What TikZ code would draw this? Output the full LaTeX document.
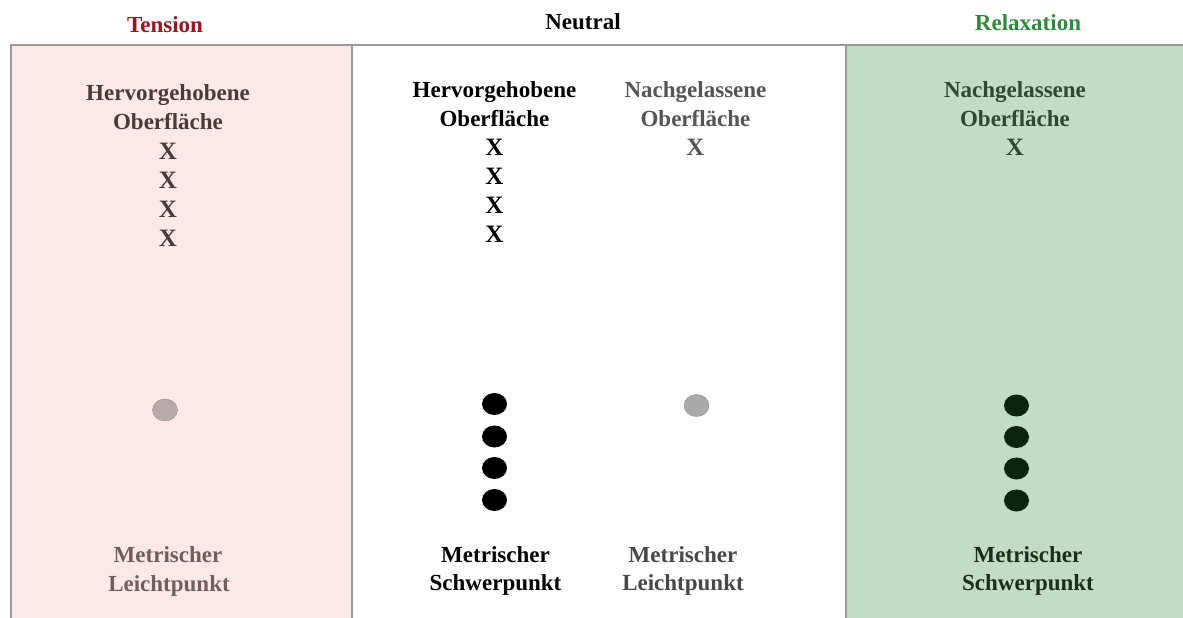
\documentclass[tikz,border=0pt]{standalone}
\usepackage{fontspec}
\setmainfont{Liberation Serif}
\usetikzlibrary{shapes.geometric}
\definecolor{tensionfill}{HTML}{FDE8E8}
\definecolor{relaxfill}{HTML}{C2DDC4}
\definecolor{framegray}{HTML}{9A9A9A}
\definecolor{tensiontitle}{HTML}{9B1420}
\definecolor{relaxtitle}{HTML}{2E8B3D}
\definecolor{tensiontext}{HTML}{4A3B3B}
\definecolor{tensionlow}{HTML}{6F5F5F}
\definecolor{tensiondot}{HTML}{B9AAAA}
\definecolor{neutralgray}{HTML}{555555}
\definecolor{neutraldot}{HTML}{AAAAAA}
\definecolor{relaxtext}{HTML}{2E4A33}
\definecolor{relaxlow}{HTML}{1A2E1C}
\definecolor{relaxdot}{HTML}{0A250C}
\begin{document}
\begin{tikzpicture}[x=1pt,y=-1pt,
  lbl/.style={anchor=base,inner sep=0pt,font=\fontsize{23}{29}\bfseries\selectfont},
  xmark/.style={lbl,font=\fontsize{25}{29}\bfseries\selectfont},
  dot/.style={ellipse,inner sep=0pt,minimum width=25pt,minimum height=22pt},
  panel/.style={draw=framegray,line width=1.2pt}]
\useasboundingbox (0,0) rectangle (1183,618);
% panels
\fill[tensionfill] (11,45) rectangle (352,620);
\fill[relaxfill] (846,45) rectangle (1185,620);
\draw[panel] (11,620) -- (11,45) -- (1185,45);
\draw[panel] (352,45) -- (352,620);
\draw[panel] (846,45) -- (846,620);
% column titles
\node[lbl,text=tensiontitle] (tTension) at (165,33) {Tension};
\node[lbl,text=black] (tNeutral) at (583,30) {Neutral};
\node[lbl,text=relaxtitle] (tRelax) at (1028,31) {Relaxation};
% tension column
\node[lbl,text=tensiontext] (a1) at (168,100) {Hervorgehobene};
\node[lbl,text=tensiontext] (a2) at (168,129) {Oberfläche};
\foreach \y [count=\i] in {159,188,217,246}
  \node[xmark,text=tensiontext] (ax\i) at (168,\y) {X};
\node[dot,fill=tensiondot,draw=tensiondot!80!black,line width=0.4pt] (ad) at (165,410) {};
\node[lbl,text=tensionlow] (a3) at (168,562) {Metrischer};
\node[lbl,text=tensionlow] (a4) at (169,591) {Leichtpunkt};
% neutral column, emphasised surface
\node[lbl,text=black] (b1) at (494.5,97) {Hervorgehobene};
\node[lbl,text=black] (b2) at (494.5,126) {Oberfläche};
\foreach \y [count=\i] in {155,184,213,242}
  \node[xmark,text=black] (bx\i) at (494.5,\y) {X};
\foreach \y [count=\i] in {404,436.5,468,500}
  \node[dot,fill=black] (bd\i) at (494.5,\y) {};
\node[lbl,text=black] (b3) at (495.5,562) {Metrischer};
\node[lbl,text=black] (b4) at (495.5,590) {Schwerpunkt};
% neutral column, relaxed surface
\node[lbl,text=neutralgray] (c1) at (695.5,97) {Nachgelassene};
\node[lbl,text=neutralgray] (c2) at (695.5,126) {Oberfläche};
\node[xmark,text=neutralgray] (cx1) at (695.5,155) {X};
\node[dot,fill=neutraldot,draw=neutraldot!85!black,line width=0.4pt] (cd) at (696.5,405.5) {};
\node[lbl,text=neutralgray!85!black] (c3) at (683,562) {Metrischer};
\node[lbl,text=neutralgray!85!black] (c4) at (683,590) {Leichtpunkt};
% relaxation column
\node[lbl,text=relaxtext] (d1) at (1015,97) {Nachgelassene};
\node[lbl,text=relaxtext] (d2) at (1015,126) {Oberfläche};
\node[xmark,text=relaxtext] (dx1) at (1015,155) {X};
\foreach \y [count=\i] in {405.5,437,468.5,500.5}
  \node[dot,fill=relaxdot] (dd\i) at (1016.5,\y) {};
\node[lbl,text=relaxlow] (d3) at (1028,562) {Metrischer};
\node[lbl,text=relaxlow] (d4) at (1028,590) {Schwerpunkt};
\end{tikzpicture}
\end{document}
